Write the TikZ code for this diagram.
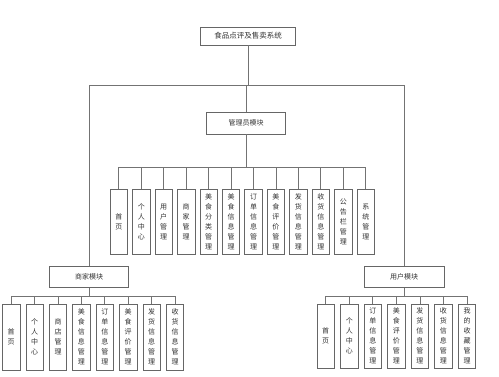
\documentclass[tikz,border=0pt]{standalone}
\usepackage{fontspec}
\newfontfamily\cjk{Noto Sans CJK SC}
\begin{document}
\begin{tikzpicture}[x=1pt,y=-1pt,
  conn/.style={draw=black!55,line width=0.8pt},
  mainbox/.style={draw=black!60,line width=0.7pt,fill=white,minimum width=#1,minimum height=20pt,inner sep=0pt,font=\cjk\fontsize{7}{8}\selectfont,text=black!80},
  leaf/.style={draw=black!60,line width=0.7pt,fill=white,minimum width=17.5pt,minimum height=65pt,inner sep=0pt,align=center,font=\cjk\fontsize{7}{10}\selectfont,text=black!80}]
\useasboundingbox[fill=white] (0,0) rectangle (499,376);
\node[mainbox=95pt,minimum height=18pt,font=\cjk\fontsize{7.5}{8}\selectfont] (top) at (248,36) {食品点评及售卖系统};
\node[mainbox=79pt,minimum height=22pt] (admin) at (246,123) {管理员模块};
\node[mainbox=79pt,minimum height=21pt] (merchant) at (89,277) {商家模块};
\node[mainbox=80pt,minimum height=21pt] (user) at (404,277) {用户模块};
\coordinate (j) at (247,85);
\coordinate (ab) at (246,167);
\coordinate (mb) at (89,296);
\coordinate (ub) at (404,296);
\draw[conn] (top.south) -- (top.south |- j);
\draw[conn] (admin.north) -- (admin.north |- j);
\draw[conn] (merchant.north) -- (merchant.north |- j) -- (user.north |- j) -- (user.north);
\draw[conn] (admin.south) -- (ab);
\draw[conn] (merchant.south) -- (mb);
\draw[conn] (user.south) -- (ub);
% admin children
\foreach \t [count=\i from 0] in {{首\\页},{个\\人\\中\\心},{用\\户\\管\\理},{商\\家\\管\\理},{美\\食\\分\\类\\管\\理},{美\\食\\信\\息\\管\\理},{订\\单\\信\\息\\管\\理},{美\\食\\评\\价\\管\\理},{发\\货\\信\\息\\管\\理},{收\\货\\信\\息\\管\\理},{公\\告\\栏\\管\\理},{系\\统\\管\\理}}{
  \node[leaf] (a\i) at ({118.8+22.45*\i},221.5) {\t};
  \draw[conn] (a\i.north) -- (a\i.north |- ab);
}
\draw[conn] (a0.north |- ab) -- (a11.north |- ab);
% merchant children
\foreach \t [count=\i from 0] in {{首\\页},{个\\人\\中\\心},{商\\店\\管\\理},{美\\食\\信\\息\\管\\理},{订\\单\\信\\息\\管\\理},{美\\食\\评\\价\\管\\理},{发\\货\\信\\息\\管\\理},{收\\货\\信\\息\\管\\理}}{
  \node[leaf,minimum height=66pt] (m\i) at ({11.2+23.4*\i},337) {\t};
  \draw[conn] (m\i.north) -- (m\i.north |- mb);
}
\draw[conn] (m0.north |- mb) -- (m7.north |- mb);
% user children
\foreach \t [count=\i from 0] in {{首\\页},{个\\人\\中\\心},{订\\单\\信\\息\\管\\理},{美\\食\\评\\价\\管\\理},{发\\货\\信\\息\\管\\理},{收\\货\\信\\息\\管\\理},{我\\的\\收\\藏\\管\\理}}{
  \node[leaf,minimum height=64pt] (u\i) at ({325.7+23.55*\i},336) {\t};
  \draw[conn] (u\i.north) -- (u\i.north |- ub);
}
\draw[conn] (u0.north |- ub) -- (u6.north |- ub);
\end{tikzpicture}
\end{document}
